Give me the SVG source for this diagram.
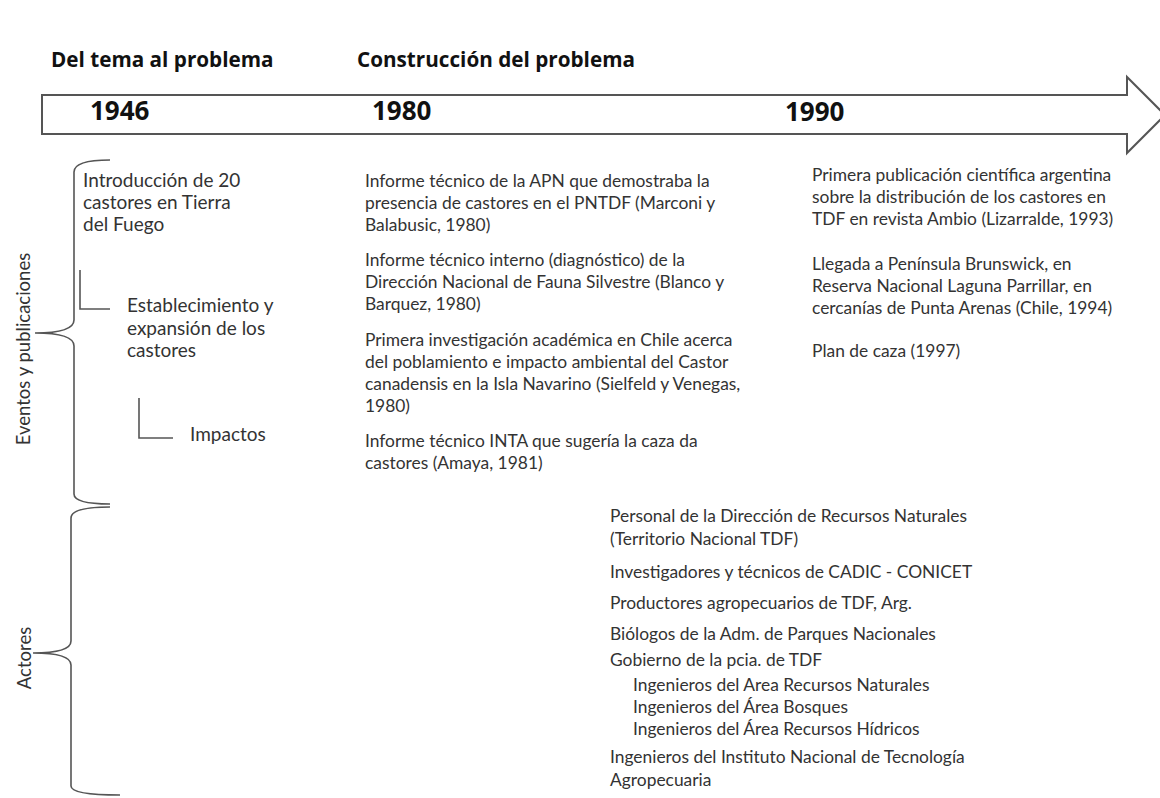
<svg xmlns="http://www.w3.org/2000/svg" width="1160" height="798" viewBox="0 0 1160 798">
<style>
.t{font-family:Lato,"Open Sans",sans-serif;font-size:17.4px;fill:#333}
.l{font-family:Lato,"Open Sans",sans-serif;font-size:19px;fill:#333}
.s{font-family:Lato,"Open Sans",sans-serif;font-size:18.5px;fill:#333}
.h{font-family:"Open Sans",Lato,sans-serif;font-size:20.7px;font-weight:bold;fill:#111}
.y{font-family:"Open Sans",Lato,sans-serif;font-size:26px;font-weight:bold;fill:#111}
.ln{fill:none;stroke:#555;stroke-width:1.6}
</style>
<rect width="1160" height="798" fill="#fff"/>
<g id="headers">
<text class="h" x="51" y="67">Del tema al problema</text>
<text class="h" x="357" y="67">Construcción del problema</text>
</g>
<g id="timeline">
<polygon points="42,95 1127,95 1127,77 1165,115 1127,153 1127,134 42,134" fill="#fff" stroke="#555" stroke-width="2"/>
<text class="y" x="90" y="120">1946</text>
<text class="y" x="372" y="120">1980</text>
<text class="y" x="785" y="121">1990</text>
</g>
<g id="connectors">
<path class="ln" d="M110,160 Q74,160 74,172 L74,320 Q74,333 35,333 Q74,333 74,346 L74,494 Q74,504 110,504"/>
<path class="ln" d="M110,507 Q71,507 71,518 L71,641 Q71,653 33,653 Q71,653 71,665 L71,786 Q71,795 120,795"/>
<path class="ln" d="M80,270 L80,309 L110,309"/>
<path class="ln" d="M139,398 L139,438 L173,438"/>
</g>
<g id="side-labels">
<text class="s" transform="translate(30,349) rotate(-90)" text-anchor="middle">Eventos y publicaciones</text>
<text class="s" transform="translate(31,658) rotate(-90)" text-anchor="middle">Actores</text>
</g>
<g id="n1946">
<text class="l" x="83" y="187">Introducción de 20</text>
<text class="l" x="83" y="209">castores en Tierra</text>
<text class="l" x="83" y="231">del Fuego</text>
</g>
<g id="establecimiento">
<text class="l" x="127" y="312">Establecimiento y</text>
<text class="l" x="127" y="335">expansión de los</text>
<text class="l" x="127" y="357">castores</text>
</g>
<g id="impactos">
<text class="l" x="190" y="441">Impactos</text>
</g>
<g id="n1980">
<text class="t" x="365" y="187">Informe técnico de la APN que demostraba la</text>
<text class="t" x="365" y="209">presencia de castores en el PNTDF (Marconi y</text>
<text class="t" x="365" y="231">Balabusic, 1980)</text>
<text class="t" x="365" y="266">Informe técnico interno (diagnóstico) de la</text>
<text class="t" x="365" y="288">Dirección Nacional de Fauna Silvestre (Blanco y</text>
<text class="t" x="365" y="310">Barquez, 1980)</text>
<text class="t" x="365" y="346">Primera investigación académica en Chile acerca</text>
<text class="t" x="365" y="368">del poblamiento e impacto ambiental del Castor</text>
<text class="t" x="365" y="390">canadensis en la Isla Navarino (Sielfeld y Venegas,</text>
<text class="t" x="365" y="412">1980)</text>
<text class="t" x="365" y="447">Informe técnico INTA que sugería la caza da</text>
<text class="t" x="365" y="469">castores (Amaya, 1981)</text>
</g>
<g id="n1990">
<text class="t" x="812" y="181">Primera publicación científica argentina</text>
<text class="t" x="812" y="203">sobre la distribución de los castores en</text>
<text class="t" x="812" y="225">TDF en revista Ambio (Lizarralde, 1993)</text>
<text class="t" x="812" y="270">Llegada a Península Brunswick, en</text>
<text class="t" x="812" y="292">Reserva Nacional Laguna Parrillar, en</text>
<text class="t" x="812" y="314">cercanías de Punta Arenas (Chile, 1994)</text>
<text class="t" x="812" y="357">Plan de caza (1997)</text>
</g>
<g id="actores">
<text class="t" x="610" y="522">Personal de la Dirección de Recursos Naturales</text>
<text class="t" x="610" y="545">(Territorio Nacional TDF)</text>
<text class="t" x="610" y="578">Investigadores y técnicos de CADIC - CONICET</text>
<text class="t" x="610" y="609">Productores agropecuarios de TDF, Arg.</text>
<text class="t" x="610" y="640">Biólogos de la Adm. de Parques Nacionales</text>
<text class="t" x="610" y="666">Gobierno de la pcia. de TDF</text>
<text class="t" x="633" y="691">Ingenieros del Area Recursos Naturales</text>
<text class="t" x="633" y="713">Ingenieros del Área Bosques</text>
<text class="t" x="633" y="735">Ingenieros del Área Recursos Hídricos</text>
<text class="t" x="610" y="763">Ingenieros del Instituto Nacional de Tecnología</text>
<text class="t" x="610" y="786">Agropecuaria</text>
</g>
</svg>
